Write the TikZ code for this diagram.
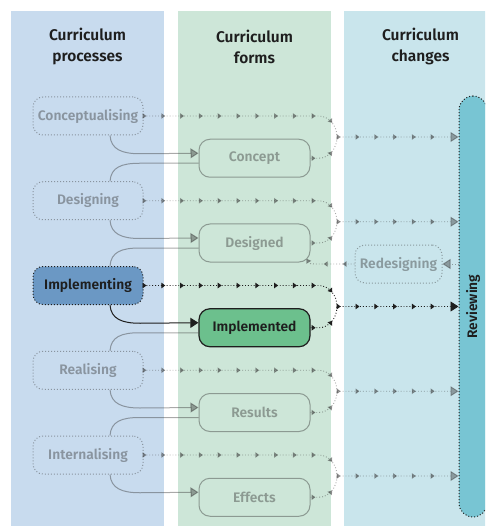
\documentclass[tikz,border=0pt]{standalone}
\usepackage{fontspec}
\setmainfont{Fira Sans SemiBold}
\usetikzlibrary{arrows.meta,decorations.markings,calc}
\definecolor{colblue}{HTML}{C8DBEE}
\definecolor{colgreen}{HTML}{CDE6D8}
\definecolor{colteal}{HTML}{C9E5EC}
\definecolor{revfill}{HTML}{78C5D3}
\definecolor{implfill}{HTML}{6B98C4}
\definecolor{impdfill}{HTML}{6CC08D}
\definecolor{ink}{HTML}{1E1E1E}
\definecolor{fadeink}{HTML}{333333}
\begin{document}
\begin{tikzpicture}[x=1pt,y=-1pt,
  head/.style={align=center, text=ink, font=\fontsize{15.5}{21}\selectfont, inner sep=0pt},
  procbox/.style={rectangle, rounded corners=10pt, minimum width=110pt, minimum height=38pt,
    inner sep=0pt, font=\fontsize{13.8}{16}\selectfont, dotted, line width=1pt},
  formbox/.style={rectangle, rounded corners=11pt, minimum width=111pt, minimum height=38pt,
    inner sep=0pt, font=\fontsize{13.8}{16}\selectfont, line width=1pt},
  faded/.style={draw=fadeink, text=fadeink, opacity=0.42},
  strong/.style={draw=ink, text=ink},
  conn/.style={line width=1pt, -{Triangle[length=8pt,width=10pt]}},
  plain/.style={line width=1pt},
  flowline/.style={line width=0.9pt, dotted},
  flow/.style={flowline, postaction={decorate},
    decoration={markings, mark=between positions #1 and -11pt step 18.8pt with
      {\arrow{Triangle[length=4pt,width=5.5pt]}}}},
  flow/.default=3pt,
  bigtip/.style={-{Triangle[length=8pt,width=10pt]}},
  smalltip/.style={-{Triangle[length=4.5pt,width=5.5pt]}}
]
\useasboundingbox (0,0) rectangle (485,526);
\begin{scope}
  \clip (0,0) rectangle (485,526);
  \fill[colblue] (11,11) rectangle (164,526);
  \fill[colgreen] (178,11) rectangle (331,526);
  \fill[colteal] (344,11) rectangle (497,526);
  \node[draw=ink, dotted, line width=1pt, fill=revfill, rounded corners=14pt,
    minimum width=28pt, minimum height=421pt, inner sep=0pt, text=ink,
    font=\fontsize{13.8}{16}\selectfont] (rev) at (473,306.5) {\rotatebox{90}{Reviewing}};
\end{scope}

% headers
\node[head] (h1) at (87.5,46.5) {Curriculum\\processes};
\node[head] (h2) at (254.5,46.5) {Curriculum\\forms};
\node[head] (h3) at (420.5,46.5) {Curriculum\\changes};

% process nodes
\node[procbox, faded] (p1) at (88,116) {Conceptualising};
\node[procbox, faded] (p2) at (88,200.75) {Designing};
\node[procbox, strong, fill=implfill] (p3) at (88,285.5) {Implementing};
\node[procbox, faded] (p4) at (88,370.25) {Realising};
\node[procbox, faded] (p5) at (88,455) {Internalising};

% form nodes
\node[formbox, faded] (f1) at (254.5,158.25) {Concept};
\node[formbox, faded] (f2) at (254.5,243) {Designed};
\node[formbox, strong, fill=impdfill, line width=1.2pt] (f3) at (254.5,327.75) {Implemented};
\node[formbox, faded] (f4) at (254.5,412.5) {Results};
\node[formbox, faded] (f5) at (254.5,497.25) {Effects};

% redesigning
\node[procbox, faded, minimum width=87pt] (rd) at (398.5,264) {Redesigning};

% merge points
\coordinate (m1) at (337,137);
\coordinate (m2) at (337,221.75);
\coordinate (m3) at (337,306.5);
\coordinate (m4) at (337,391.25);
\coordinate (m5) at (337,476);

% process -> form solid arrows
\foreach \i/\st in {1/faded,2/faded,3/strong,4/faded,5/faded}{
  \draw[conn,\st] ([xshift=22pt]p\i.south) .. controls +(1,14) and +(-18,0) .. ++(30,18.25)
    -- ([yshift=5pt]f\i.west);
}
% form -> next process lines
\foreach \i/\j in {1/2,2/3,3/4,4/5}{
  \draw[plain,faded] ([yshift=-5pt]f\i.west) -- ++(-59,0)
    .. controls +(-18,0) and +(1,-14) .. ([xshift=22pt]p\j.north);
}
% dotted flows
\foreach \i/\st in {1/faded,2/faded,3/strong,4/faded,5/faded}{
  \draw[flow,\st,bigtip] (p\i.east) -- ++(175,0)
    .. controls +(10.5,0) and +(0,-11.5) .. (m\i) -- (m\i -| rev.west);
  \draw[flow=5pt,\st] (f\i.east) -- ++(8,0)
    .. controls +(10.5,0) and +(0,11.5) .. (m\i);
}
% reviewing -> redesigning -> designed
\draw[flowline,faded,bigtip] (rev.west |- rd.east) -- (rd.east);
\draw[flow=12pt,faded,smalltip] (rd.west) -- ++(-37,0)
  .. controls +(-8,0) and +(3,5) .. ([xshift=-4pt,yshift=4pt]f2.south east);
\end{tikzpicture}
\end{document}
